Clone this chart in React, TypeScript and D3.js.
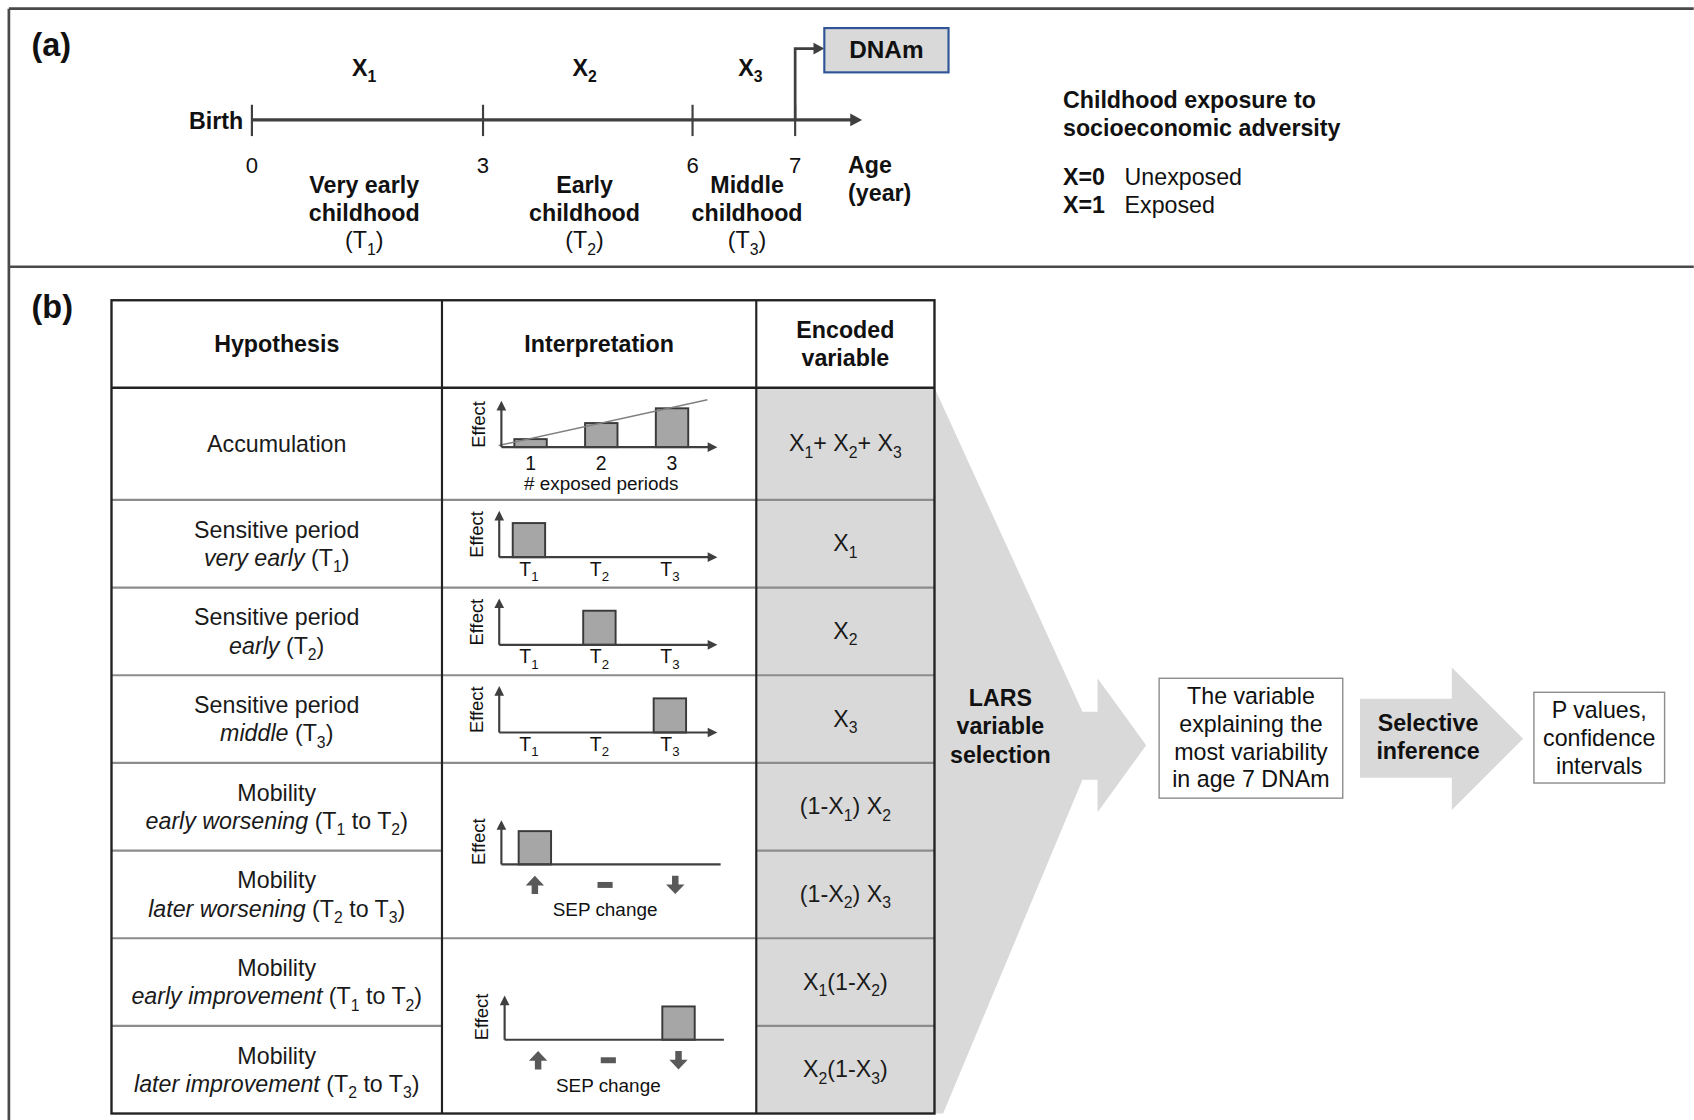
import React from 'react';
import * as d3 from 'd3';

const FONT = '"Liberation Sans", Arial, Helvetica, sans-serif';
const INK = '#111';
const LINE = '#3f3f3f';
const GREY = '#d9d9d9';
const BAR = '#a6a6a6';

// ---- panel (a): timeline ----
const ages = [0, 3, 6, 7];
const periods = [
  { x: 'X_1', name: ['Very early', 'childhood'], t: '(T_1)', from: 0, to: 3 },
  { x: 'X_2', name: ['Early', 'childhood'], t: '(T_2)', from: 3, to: 6 },
  { x: 'X_3', name: ['Middle', 'childhood'], t: '(T_3)', from: 6, to: 7 },
];
const ageTitle = ['Age', '(year)'];
const legendTitle = ['Childhood exposure to', 'socioeconomic adversity'];
const legendCodes = ['X=0', 'X=1'];
const legendLabels = ['Unexposed', 'Exposed'];

// ---- panel (b): table ----
const headers = [['Hypothesis'], ['Interpretation'], ['Encoded', 'variable']];
const hypotheses = [
  ['Accumulation'],
  ['Sensitive period', '*very early* (T_1)'],
  ['Sensitive period', '*early* (T_2)'],
  ['Sensitive period', '*middle* (T_3)'],
  ['Mobility', '*early worsening* (T_1 to T_2)'],
  ['Mobility', '*later worsening* (T_2 to T_3)'],
  ['Mobility', '*early improvement* (T_1 to T_2)'],
  ['Mobility', '*later improvement* (T_2 to T_3)'],
];
const encoded = ['X_1+ X_2+ X_3', 'X_1', 'X_2', 'X_3', '(1-X_1) X_2', '(1-X_2) X_3', 'X_1(1-X_2)', 'X_2(1-X_3)'];
const rowUnits = [1.28, 1, 1, 1, 1, 1, 1, 1];

// mini charts
const exposedPeriods = [1, 2, 3];
const accumulationEffect = [0.95, 2.85, 4.6];
const accumulationTrend = [[0.55, 0.2], [3.5, 5.6]];
const sensitivePeriods = ['T_1', 'T_2', 'T_3'];
const sensitiveEffect = [[1, 0, 0], [0, 1, 0], [0, 0, 1]];
const sepChange = ['up', 'stable', 'down'];
const mobilityEffect = [[1, 0, 0], [0, 0, 1]];

// flow
const larsLabel = ['LARS', 'variable', 'selection'];
const resultLines = ['The variable', 'explaining the', 'most variability', 'in age 7 DNAm'];
const inferenceLabel = ['Selective', 'inference'];
const outputLines = ['P values,', 'confidence', 'intervals'];

function parseRich(s) {
  const segs = [];
  let it = false;
  let cur = '';
  for (let i = 0; i < s.length; i++) {
    const c = s[i];
    if (c === '*') {
      if (cur) segs.push({ t: cur, sub: false, it });
      cur = '';
      it = !it;
    } else if (c === '_') {
      if (cur) segs.push({ t: cur, sub: false, it });
      cur = '';
      segs.push({ t: s[i + 1], sub: true, it });
      i++;
    } else cur += c;
  }
  if (cur) segs.push({ t: cur, sub: false, it });
  return segs;
}

function Rich({ x, y, s, size, anchor = 'middle', weight = 'normal', fill = INK }) {
  let shift = 0;
  return (
    <text x={x} y={y} fontSize={size} textAnchor={anchor} fontWeight={weight} fill={fill} style={{ whiteSpace: 'pre' }}>
      {parseRich(s).map((g, i) => {
        const target = g.sub ? size * 0.28 : 0;
        const dy = target - shift;
        shift = target;
        return (
          <tspan key={i} dy={dy} fontSize={g.sub ? size * 0.68 : undefined} fontStyle={g.it ? 'italic' : undefined}>
            {g.t}
          </tspan>
        );
      })}
    </text>
  );
}

const headRight = (tx, ty, l = 9, w = 4.5) => `${tx},${ty} ${tx - l},${ty - w} ${tx - l},${ty + w}`;
const headUp = (tx, ty, l = 9, w = 4.5) => `${tx},${ty} ${tx - w},${ty + l} ${tx + w},${ty + l}`;

function Axes({ len, arrowX = true, ylen = 43 }) {
  return (
    <g>
      <line x1={0} y1={0} x2={0} y2={-ylen + 8} stroke={LINE} strokeWidth={2} />
      <polygon points={headUp(0, -ylen)} fill={LINE} />
      <line x1={0} y1={0} x2={arrowX ? len - 8 : len} y2={0} stroke={LINE} strokeWidth={2} />
      {arrowX && <polygon points={headRight(len, 0)} fill={LINE} />}
      <text transform="translate(-15,-21) rotate(-90)" textAnchor="middle" fontSize={17} fill={INK}>Effect</text>
    </g>
  );
}

function AccChart({ ox, oy }) {
  const x = d3.scaleLinear().domain([1, 3]).range([27, 158]);
  const y = d3.scaleLinear().domain([0, 5.5]).range([0, -43]);
  const trend = d3.line()(accumulationTrend.map(([n, e]) => [x(n), y(e)]));
  return (
    <g transform={`translate(${ox},${oy})`}>
      {exposedPeriods.map((p, i) => (
        <rect key={p} x={x(p) - 15} y={y(accumulationEffect[i])} width={30} height={-y(accumulationEffect[i])}
          fill={BAR} stroke="#3a3a3a" strokeWidth={1.8} />
      ))}
      <path d={trend} stroke="#808080" strokeWidth={1.4} fill="none" />
      <Axes len={200} />
      {exposedPeriods.map((p) => (
        <text key={p} x={x(p)} y={21} textAnchor="middle" fontSize={18} fill={INK}>{p}</text>
      ))}
      <text x={x(2)} y={40} textAnchor="middle" fontSize={17.5} fill={INK}># exposed periods</text>
    </g>
  );
}

function SensChart({ ox, oy, values }) {
  const x = d3.scalePoint().domain(sensitivePeriods).range([27.5, 158]);
  const y = d3.scaleLinear().domain([0, 1.33]).range([0, -42]);
  return (
    <g transform={`translate(${ox},${oy})`}>
      {sensitivePeriods.map((p, i) => values[i] > 0 && (
        <rect key={p} x={x(p) - 15} y={y(values[i])} width={30} height={-y(values[i])}
          fill={BAR} stroke="#3a3a3a" strokeWidth={1.8} />
      ))}
      <Axes len={202} />
      {sensitivePeriods.map((p) => (
        <Rich key={p} x={x(p)} y={17} s={p} size={18} />
      ))}
    </g>
  );
}

function SepArrow({ kind }) {
  if (kind === 'stable') return <rect x={-7} y={-2.75} width={14} height={5.5} fill="#595959" />;
  const s = kind === 'up' ? 1 : -1;
  const pts = [[0, -8.5], [8.5, 0.5], [3, 0.5], [3, 8.5], [-3, 8.5], [-3, 0.5], [-8.5, 0.5]]
    .map(([a, b]) => `${a},${b * s}`).join(' ');
  return <polygon points={pts} fill="#595959" />;
}

function MobChart({ ox, oy, values }) {
  const x = d3.scalePoint().domain(sepChange).range([31, 161]);
  const y = d3.scaleLinear().domain([0, 1.33]).range([0, -41]);
  return (
    <g transform={`translate(${ox},${oy})`}>
      {sepChange.map((c, i) => values[i] > 0 && (
        <rect key={c} x={x(c) - 15} y={y(values[i])} width={30} height={-y(values[i])}
          fill={BAR} stroke="#3a3a3a" strokeWidth={1.8} />
      ))}
      <Axes len={203} arrowX={false} ylen={41} />
      {sepChange.map((c) => (
        <g key={c} transform={`translate(${x(c)},19)`}><SepArrow kind={c} /></g>
      ))}
      <text x={x('stable')} y={48} textAnchor="middle" fontSize={17.5} fill={INK}>SEP change</text>
    </g>
  );
}

export default function App() {
  const FS = 21.5;
  const ageX = d3.scaleLinear().domain(ages).range([233, 447, 641, 736]);
  const axisY = 111;
  const colX = [103, 409, 700, 865];
  const tableTop = 278;
  const headBottom = 359;
  const rowY = d3.scaleLinear().domain([0, d3.sum(rowUnits)]).range([headBottom, 1031]);
  const edges = [0, ...d3.cumsum(rowUnits)].map(rowY);
  const tableBottom = edges[edges.length - 1];
  const mid = (a, b) => (a + b) / 2;
  const colMid = (c) => mid(colX[c], colX[c + 1]);
  const rowMid = (r) => mid(edges[r], edges[r + 1]);

  // interpretation cells: [first row, last row]
  const interp = [[0, 0], [1, 1], [2, 2], [3, 3], [4, 5], [6, 7]];

  // funnel and arrows
  const cy = 690;
  const funnel = [
    [colX[3], headBottom], [1002, cy - 31], [1016, cy - 31], [1016, cy - 62], [1061, cy],
    [1016, cy + 62], [1016, cy + 32], [1002, cy + 32], [873, tableBottom], [colX[3], tableBottom],
  ];
  const acy = 684;
  const inferArrow = [
    [1259, acy - 37], [1344, acy - 37], [1344, acy - 66], [1410, acy], [1344, acy + 66],
    [1344, acy + 36], [1259, acy + 36],
  ];
  const pts = (p) => p.map((d) => d.join(',')).join(' ');
  const shortShift = (p) => (p.to - p.from < 2 ? 3 : -3);

  return (
    <svg width={1694} height={1120} viewBox="0 0 1568 1037" fontFamily={FONT}
      style={{ position: 'absolute', left: 0, top: 0, background: '#fff' }}>
      <rect x={0} y={0} width={1568} height={1037} fill="#fff" />
      {/* frame */}
      <line x1={8} y1={8} x2={1568} y2={8} stroke="#4a4a4a" strokeWidth={2.5} />
      <line x1={8} y1={8} x2={8} y2={1037} stroke="#4a4a4a" strokeWidth={2.5} />
      <line x1={8} y1={247} x2={1568} y2={247} stroke="#4a4a4a" strokeWidth={2.5} />
      <text x={29} y={52} fontSize={30} fontWeight="bold" fill={INK}>(a)</text>
      <text x={29} y={294} fontSize={30} fontWeight="bold" fill={INK}>(b)</text>

      {/* timeline */}
      <line x1={ageX(0)} y1={axisY} x2={789} y2={axisY} stroke={LINE} strokeWidth={3} />
      <polygon points={headRight(798, axisY, 11, 6)} fill={LINE} />
      {ages.map((a) => (
        <g key={a}>
          <line x1={ageX(a)} y1={axisY - 14} x2={ageX(a)} y2={axisY + 15} stroke={LINE} strokeWidth={2} />
          <text x={ageX(a)} y={160} textAnchor="middle" fontSize={20.5} fill={INK}>{a}</text>
        </g>
      ))}
      <text x={ageX(0) - 8} y={119} textAnchor="end" fontSize={FS} fontWeight="bold" fill={INK}>Birth</text>
      <path d={`M${ageX(7)},${axisY} V45 H754`} stroke={LINE} strokeWidth={2.5} fill="none" />
      <polygon points={headRight(763, 45, 10, 5.5)} fill={LINE} />
      <rect x={763} y={26} width={115} height={41} fill={GREY} stroke="#2f5597" strokeWidth={2} />
      <text x={820.5} y={54} textAnchor="middle" fontSize={22.5} fontWeight="bold" fill={INK}>DNAm</text>
      {periods.map((p) => {
        const cx = mid(ageX(p.from), ageX(p.to));
        return (
          <g key={p.x}>
            <Rich x={cx + shortShift(p) * (p.to - p.from < 2 ? 2 : 1)} y={70} s={p.x} size={FS} weight="bold" />
            {p.name.map((n, i) => (
              <text key={n} x={cx + shortShift(p)} y={179 + i * 25.5} textAnchor="middle" fontSize={FS} fontWeight="bold" fill={INK}>{n}</text>
            ))}
            <Rich x={cx + shortShift(p)} y={230} s={p.t} size={FS} />
          </g>
        );
      })}
      {ageTitle.map((t, i) => (
        <text key={t} x={785} y={160 + i * 26} fontSize={FS} fontWeight="bold" fill={INK}>{t}</text>
      ))}
      {legendTitle.map((t, i) => (
        <text key={t} x={984} y={100 + i * 26} fontSize={FS} fontWeight="bold" fill={INK}>{t}</text>
      ))}
      {legendCodes.map((c, i) => (
        <g key={c}>
          <text x={984} y={171 + i * 26} fontSize={FS} fontWeight="bold" fill={INK}>{c}</text>
          <text x={1041} y={171 + i * 26} fontSize={FS} fill={INK}>{legendLabels[i]}</text>
        </g>
      ))}

      {/* funnel behind table */}
      <polygon points={pts(funnel)} fill={GREY} />
      <rect x={colX[2]} y={headBottom} width={colX[3] - colX[2]} height={tableBottom - headBottom} fill={GREY} />

      {/* row lines */}
      {edges.slice(1, -1).map((e, i) => {
        const r = i + 1;
        const merged = interp.some(([a, b]) => r > a && r <= b);
        return (
          <g key={r}>
            <line x1={colX[0]} y1={e} x2={colX[1]} y2={e} stroke="#8c8c8c" strokeWidth={2} />
            {!merged && <line x1={colX[1]} y1={e} x2={colX[2]} y2={e} stroke="#8c8c8c" strokeWidth={2} />}
            <line x1={colX[2]} y1={e} x2={colX[3]} y2={e} stroke="#8c8c8c" strokeWidth={2} />
          </g>
        );
      })}
      <line x1={colX[0]} y1={headBottom} x2={colX[3]} y2={headBottom} stroke="#222" strokeWidth={2.2} />
      {colX.slice(1, -1).map((c) => (
        <line key={c} x1={c} y1={tableTop} x2={c} y2={tableBottom} stroke="#222" strokeWidth={2} />
      ))}
      <rect x={colX[0]} y={tableTop} width={colX[3] - colX[0]} height={tableBottom - tableTop} fill="none" stroke="#222" strokeWidth={2.2} />

      {/* headers */}
      {headers.map((h, c) => h.map((t, i) => (
        <text key={t} x={colMid(c)} y={mid(tableTop, headBottom) + 7.5 + (i - (h.length - 1) / 2) * 26}
          textAnchor="middle" fontSize={FS} fontWeight="bold" fill={INK}>{t}</text>
      )))}

      {/* hypothesis + encoded text */}
      {hypotheses.map((h, r) => h.map((t, i) => (
        <Rich key={r + '-' + i} x={colMid(0)} y={rowMid(r) + 7.5 + (i - (h.length - 1) / 2) * 26} s={t} size={FS} fill="#1a1a1a" />
      )))}
      {encoded.map((e, r) => (
        <Rich key={e} x={colMid(2)} y={rowMid(r) + 7} s={e} size={FS} fill="#1a1a1a" />
      ))}

      {/* interpretation mini charts */}
      <AccChart ox={colX[1] + 55} oy={edges[0] + 55} />
      {sensitiveEffect.map((v, i) => (
        <SensChart key={i} ox={colX[1] + 53} oy={edges[i + 1] + 53} values={v} />
      ))}
      {mobilityEffect.map((v, i) => (
        <MobChart key={i} ox={colX[1] + 55 + i * 3} oy={edges[4 + i * 2] + 94} values={v} />
      ))}

      {/* flow */}
      {larsLabel.map((t, i) => (
        <text key={t} x={926} y={654 + i * 26} textAnchor="middle" fontSize={FS} fontWeight="bold" fill={INK}>{t}</text>
      ))}
      <rect x={1073} y={628} width={170} height={111} fill="#fff" stroke="#8c8c8c" strokeWidth={1.3} />
      {resultLines.map((t, i) => (
        <text key={t} x={1158} y={652 + i * 25.7} textAnchor="middle" fontSize={FS} fill={INK}>{t}</text>
      ))}
      <polygon points={pts(inferArrow)} fill={GREY} />
      {inferenceLabel.map((t, i) => (
        <text key={t} x={1322} y={677 + i * 25.5} textAnchor="middle" fontSize={FS} fontWeight="bold" fill={INK}>{t}</text>
      ))}
      <rect x={1420} y={641} width={121} height={84} fill="#fff" stroke="#8c8c8c" strokeWidth={1.3} />
      {outputLines.map((t, i) => (
        <text key={t} x={1480.5} y={665 + i * 26} textAnchor="middle" fontSize={FS} fill={INK}>{t}</text>
      ))}
    </svg>
  );
}
